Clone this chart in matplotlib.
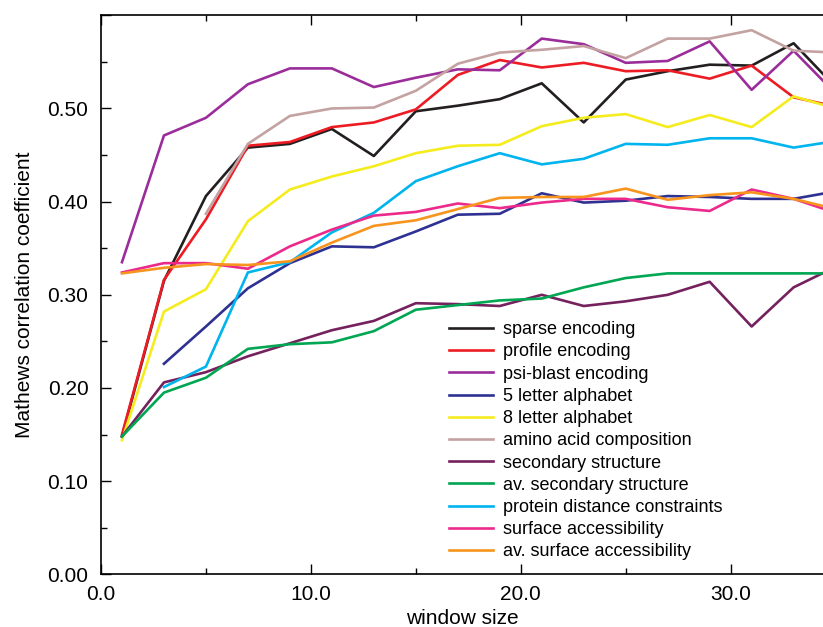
import matplotlib
matplotlib.use("Agg")
import matplotlib.pyplot as plt
import matplotlib.ticker as mticker
import numpy as np

plt.rcParams['font.family'] = ['Liberation Sans', 'DejaVu Sans']

window = [1, 3, 5, 7, 9, 11, 13, 15, 17, 19, 21, 23, 25, 27, 29, 31, 33, 35]

sparse = [0.148, 0.315, 0.406, 0.458, 0.462, 0.478, 0.449, 0.497, 0.503, 0.510,
          0.527, 0.485, 0.531, 0.540, 0.547, 0.546, 0.570, 0.523]
profile = [0.150, 0.316, 0.381, 0.460, 0.464, 0.480, 0.485, 0.499, 0.536, 0.552,
           0.544, 0.549, 0.540, 0.541, 0.532, 0.546, 0.512, 0.502]
psi_blast = [0.335, 0.471, 0.490, 0.526, 0.543, 0.543, 0.523, 0.533, 0.542, 0.541,
             0.575, 0.569, 0.549, 0.551, 0.572, 0.520, 0.562, 0.516]
five_letter = [None, 0.226, 0.266, 0.307, 0.334, 0.352, 0.351, 0.368, 0.386, 0.387,
               0.409, 0.399, 0.401, 0.406, 0.405, 0.403, 0.403, 0.411]
eight_letter = [0.144, 0.282, 0.306, 0.379, 0.413, 0.427, 0.438, 0.452, 0.460, 0.461,
                0.481, 0.490, 0.494, 0.480, 0.493, 0.480, 0.513, 0.500]
amino_acid = [None, None, 0.387, 0.462, 0.492, 0.500, 0.501, 0.519, 0.548, 0.560,
              0.563, 0.567, 0.554, 0.575, 0.575, 0.584, 0.562, 0.560]
sec_struct = [0.148, 0.206, 0.217, 0.234, 0.248, 0.262, 0.272, 0.291, 0.290, 0.288,
              0.300, 0.288, 0.293, 0.300, 0.314, 0.266, 0.308, 0.330]
av_sec_struct = [0.148, 0.195, 0.211, 0.242, 0.247, 0.249, 0.261, 0.284, 0.289, 0.294,
                 0.296, 0.308, 0.318, 0.323, 0.323, 0.323, 0.323, 0.323]
distance = [None, 0.201, 0.223, 0.324, 0.335, 0.367, 0.388, 0.422, 0.438, 0.452,
            0.440, 0.446, 0.462, 0.461, 0.468, 0.468, 0.458, 0.465]
surface = [0.324, 0.334, 0.334, 0.328, 0.352, 0.370, 0.385, 0.389, 0.398, 0.393,
           0.399, 0.403, 0.403, 0.394, 0.390, 0.413, 0.403, 0.388]
av_surface = [0.323, 0.329, 0.333, 0.332, 0.336, 0.356, 0.374, 0.380, 0.392, 0.404,
              0.405, 0.405, 0.414, 0.402, 0.407, 0.410, 0.403, 0.392]

labels = ["sparse encoding", "profile encoding", "psi-blast encoding",
          "5 letter alphabet", "8 letter alphabet", "amino acid composition",
          "secondary structure", "av. secondary structure",
          "protein distance constraints", "surface accessibility",
          "av. surface accessibility"]
series = [sparse, profile, psi_blast, five_letter, eight_letter, amino_acid,
          sec_struct, av_sec_struct, distance, surface, av_surface]
colors = ['#231f20', '#ed1c24', '#9b2d9a', '#2e3192', '#f5ec1e', '#c4a2a2',
          '#74215e', '#00a651', '#00b4ee', '#ec2a8c', '#f7941d']

fig = plt.figure(figsize=(8.23, 6.27), dpi=100)
ax = fig.add_axes([0.1227, 0.084, 0.8773, 0.8916])

for vals, lab, col in zip(series, labels, colors):
    y = np.array([np.nan if v is None else v for v in vals], dtype=float)
    ax.plot(window, y, color=col, lw=1.9, label=lab)

ax.set_xlim(0, 34.4)
ax.set_ylim(0, 0.6)
ax.xaxis.set_major_locator(mticker.MultipleLocator(10))
ax.xaxis.set_minor_locator(mticker.MultipleLocator(5))
ax.yaxis.set_major_locator(mticker.MultipleLocator(0.1))
ax.yaxis.set_minor_locator(mticker.MultipleLocator(0.05))
ax.xaxis.set_major_formatter(mticker.FormatStrFormatter('%.1f'))
# no label on the top tick (0.60)
ax.yaxis.set_major_formatter(mticker.FuncFormatter(
    lambda v, p: '' if v > 0.55 else '%.2f' % v))
ax.tick_params(which='both', direction='in', top=True, right=False, labelsize=15,
               width=1)
ax.tick_params(which='major', length=7)
ax.tick_params(which='minor', length=4)
ax.tick_params(axis='y', pad=9)
ax.tick_params(axis='x', pad=8)
ax.spines['right'].set_visible(False)
for s in ['left', 'top', 'bottom']:
    ax.spines[s].set_linewidth(1.2)

ax.set_xlabel("window size", fontsize=15, labelpad=3)
ax.set_ylabel("Mathews correlation coefficient", fontsize=15, labelpad=10)

ax.legend(loc='upper left', bbox_to_anchor=(0.46, 0.482), frameon=False,
          fontsize=13, handlelength=2.44, handletextpad=0.55, labelspacing=0.29)

plt.savefig("out.png", dpi=100)
